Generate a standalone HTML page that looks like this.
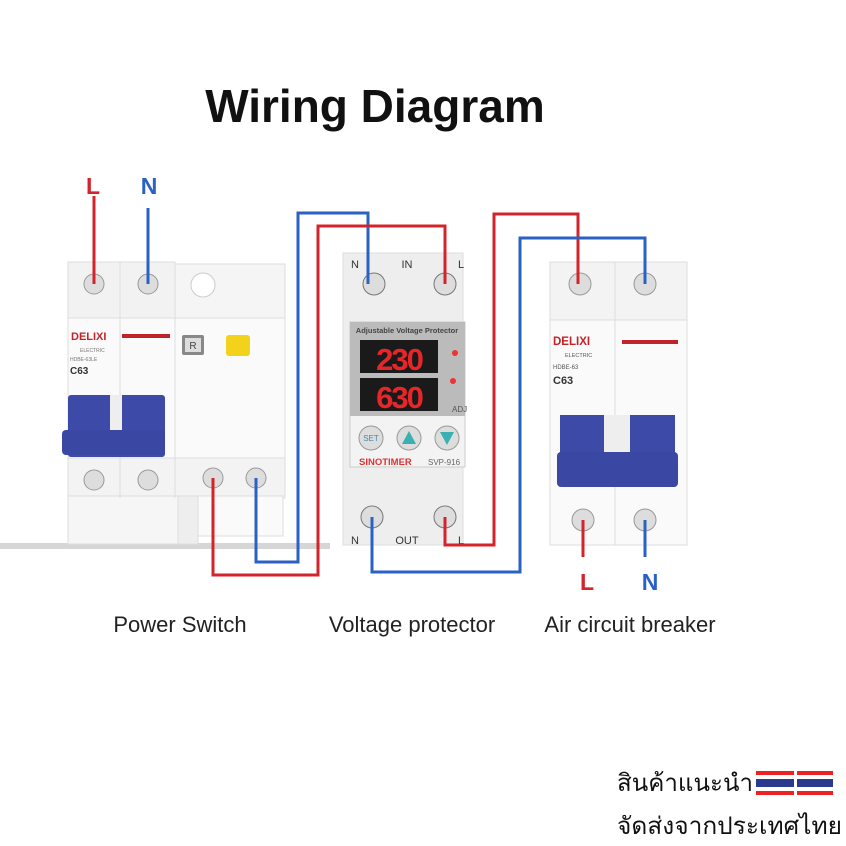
<!DOCTYPE html>
<html><head><meta charset="utf-8"><style>
body{margin:0;background:#fff}
svg{display:block}
text{font-family:"Liberation Sans",sans-serif}
</style></head><body>
<svg width="846" height="846" viewBox="0 0 846 846" xmlns="http://www.w3.org/2000/svg">
<rect width="846" height="846" fill="#fff"/>
<text x="375" y="122" font-size="46" font-weight="bold" text-anchor="middle" fill="#111">Wiring Diagram</text>

<!-- shadow -->
<rect x="0" y="543" width="330" height="6" fill="#bbb" opacity="0.6"/>

<!-- Left device -->
<g stroke="#ddd" stroke-width="1">
<rect x="68" y="262" width="107" height="58" fill="#f2f2f2"/>
<rect x="175" y="264" width="110" height="56" fill="#f5f5f5"/>
<rect x="68" y="318" width="217" height="140" fill="#fafafa"/>
<rect x="68" y="458" width="217" height="40" fill="#f3f3f3"/>
<rect x="68" y="496" width="110" height="48" fill="#f6f6f6"/>
<rect x="178" y="496" width="20" height="48" fill="#eee"/>
<rect x="198" y="496" width="85" height="40" fill="#fafafa"/>
</g>
<line x1="120" y1="262" x2="120" y2="498" stroke="#ddd"/>
<line x1="175" y1="262" x2="175" y2="498" stroke="#ddd"/>
<circle cx="203" cy="285" r="12" fill="#fff" stroke="#ccc"/>
<text x="71" y="340" font-size="11" font-weight="bold" fill="#c0242a" font-family="Liberation Serif">DELIXI</text>
<rect x="122" y="334" width="48" height="4" fill="#c0242a"/>
<text x="80" y="352" font-size="5" fill="#777">ELECTRIC</text>
<text x="70" y="361" font-size="5" fill="#777">HDBE-63LE</text>
<text x="70" y="374" font-size="10" font-weight="bold" fill="#333">C63</text>
<rect x="182" y="335" width="22" height="20" rx="2" fill="#888"/><rect x="185" y="338" width="16" height="14" fill="#ddd"/>
<text x="193" y="349" font-size="10" text-anchor="middle" fill="#444">R</text>
<rect x="226" y="335" width="24" height="21" rx="3" fill="#f3d21c"/>
<rect x="68" y="395" width="97" height="62" fill="#3d4aa8" rx="3"/>
<rect x="110" y="395" width="12" height="40" fill="#eee"/>
<rect x="62" y="430" width="103" height="25" fill="#3a47a3" rx="4"/>
<g fill="#ddd" stroke="#999">
<circle cx="94" cy="284" r="10"/><circle cx="148" cy="284" r="10"/>
<circle cx="94" cy="480" r="10"/><circle cx="148" cy="480" r="10"/>
<circle cx="213" cy="478" r="10"/><circle cx="256" cy="478" r="10"/>
</g>

<!-- Middle device -->
<rect x="343" y="253" width="120" height="292" fill="#eeeeee" stroke="#ddd"/>
<rect x="350" y="322" width="115" height="145" fill="#f3f3f3" stroke="#ccc"/>
<rect x="350" y="322" width="115" height="94" fill="#bbb"/>
<text x="407" y="333" font-size="7.5" font-weight="bold" text-anchor="middle" fill="#444">Adjustable Voltage Protector</text>
<rect x="360" y="340" width="78" height="33" fill="#1a1a1a"/>
<rect x="360" y="378" width="78" height="33" fill="#1a1a1a"/>
<text x="399" y="370" font-size="31" font-family="Liberation Mono" font-weight="bold" text-anchor="middle" fill="#e8262a" letter-spacing="-2">230</text>
<text x="399" y="408" font-size="31" font-family="Liberation Mono" font-weight="bold" text-anchor="middle" fill="#e8262a" letter-spacing="-2">630</text>
<circle cx="455" cy="353" r="3" fill="#e33"/><circle cx="453" cy="381" r="3" fill="#e33"/>
<text x="452" y="412" font-size="8" fill="#555">ADJ</text>
<circle cx="371" cy="438" r="12" fill="#ddd" stroke="#999"/>
<text x="371" y="441" font-size="8" text-anchor="middle" fill="#48a">SET</text>
<circle cx="409" cy="438" r="12" fill="#ddd" stroke="#999"/>
<polygon points="409,431 402,444 416,444" fill="#3bb0b0"/>
<circle cx="447" cy="438" r="12" fill="#ddd" stroke="#999"/>
<polygon points="447,445 440,432 454,432" fill="#3bb0b0"/>
<text x="359" y="465" font-size="9.5" font-weight="bold" fill="#d33">SINOTIMER</text>
<text x="428" y="465" font-size="8" fill="#666">SVP-916</text>
<text x="355" y="268" font-size="11" text-anchor="middle" fill="#333">N</text>
<text x="407" y="268" font-size="11" text-anchor="middle" fill="#333">IN</text>
<text x="461" y="268" font-size="11" text-anchor="middle" fill="#333">L</text>
<text x="355" y="544" font-size="11" text-anchor="middle" fill="#333">N</text>
<text x="407" y="544" font-size="11" text-anchor="middle" fill="#333">OUT</text>
<text x="461" y="544" font-size="11" text-anchor="middle" fill="#333">L</text>
<g fill="#ddd" stroke="#777">
<circle cx="374" cy="284" r="11"/><circle cx="445" cy="284" r="11"/>
<circle cx="372" cy="517" r="11"/><circle cx="445" cy="517" r="11"/>
</g>

<!-- Right device -->
<rect x="550" y="262" width="137" height="60" fill="#f3f3f3" stroke="#ddd"/>
<rect x="550" y="320" width="137" height="225" fill="#fafafa" stroke="#ddd"/>
<line x1="615" y1="262" x2="615" y2="545" stroke="#ddd"/>
<text x="553" y="345" font-size="11.5" font-weight="bold" fill="#c0242a" font-family="Liberation Serif">DELIXI</text>
<rect x="622" y="340" width="56" height="4" fill="#c0242a"/>
<text x="565" y="357" font-size="5.5" fill="#555">ELECTRIC</text>
<text x="553" y="369" font-size="6" fill="#555">HDBE-63</text>
<text x="553" y="384" font-size="11" font-weight="bold" fill="#333">C63</text>
<rect x="560" y="415" width="115" height="45" fill="#3d4aa8"/>
<rect x="604" y="415" width="26" height="40" fill="#eee"/>
<rect x="557" y="452" width="121" height="35" fill="#3a47a3" rx="4"/>
<g fill="#ddd" stroke="#999">
<circle cx="580" cy="284" r="11"/><circle cx="645" cy="284" r="11"/>
<circle cx="583" cy="520" r="11"/><circle cx="645" cy="520" r="11"/>
</g>

<!-- Wires -->
<g fill="none" stroke-width="3">
<polyline points="94,196 94,284" stroke="#d3232b"/>
<polyline points="148,208 148,284" stroke="#2a62c4"/>
<polyline points="256,478 256,562 298,562 298,213 368,213 368,284" stroke="#2a62c4"/>
<polyline points="213,478 213,575 318,575 318,226 445,226 445,284" stroke="#d3232b"/>
<polyline points="445,517 445,545 494,545 494,214 578,214 578,284" stroke="#d3232b"/>
<polyline points="372,517 372,572 520,572 520,238 645,238 645,284" stroke="#2a62c4"/>
<polyline points="583,520 583,557" stroke="#d3232b"/>
<polyline points="645,520 645,557" stroke="#2a62c4"/>
</g>
<text x="93" y="194" font-size="23" font-weight="bold" text-anchor="middle" fill="#d3232b">L</text>
<text x="149" y="194" font-size="23" font-weight="bold" text-anchor="middle" fill="#2a62c4">N</text>
<text x="587" y="590" font-size="23" font-weight="bold" text-anchor="middle" fill="#d3232b">L</text>
<text x="650" y="590" font-size="23" font-weight="bold" text-anchor="middle" fill="#2a62c4">N</text>

<text x="180" y="632" font-size="22" text-anchor="middle" fill="#222">Power Switch</text>
<text x="412" y="632" font-size="22" text-anchor="middle" fill="#222">Voltage protector</text>
<text x="630" y="632" font-size="22" text-anchor="middle" fill="#222">Air circuit breaker</text>

<text x="617" y="791" font-size="24" font-family="Liberation Sans, Noto Sans CJK SC, sans-serif" fill="#111" textLength="136" lengthAdjust="spacingAndGlyphs">สินค้าแนะนำ</text>
<g>
<rect x="756" y="771" width="38" height="24" fill="#e22"/><rect x="756" y="775" width="38" height="16" fill="#fff"/><rect x="756" y="779" width="38" height="8" fill="#2a3b8f"/>
<rect x="797" y="771" width="36" height="24" fill="#e22"/><rect x="797" y="775" width="36" height="16" fill="#fff"/><rect x="797" y="779" width="36" height="8" fill="#2a3b8f"/>
</g>
<text x="617" y="834" font-size="24" font-family="Liberation Sans, Noto Sans CJK SC, sans-serif" fill="#111" textLength="225" lengthAdjust="spacingAndGlyphs">จัดส่งจากประเทศไทย</text>
</svg>
</body></html>
